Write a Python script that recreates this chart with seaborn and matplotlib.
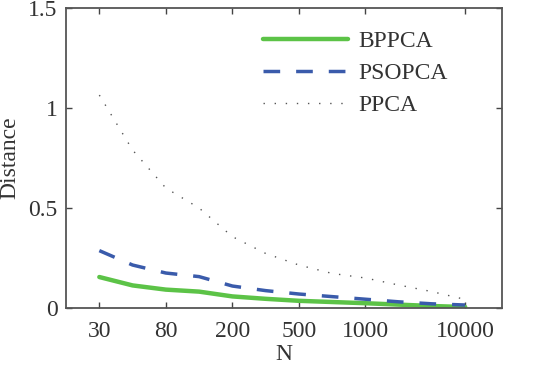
import numpy as np
import pandas as pd
import matplotlib
matplotlib.use("Agg")
import matplotlib.pyplot as plt
import seaborn as sns

# sample sizes, plotted at evenly spaced positions
N_VALUES = [30, 50, 80, 120, 200, 300, 500, 800, 1000, 2000, 5000, 10000]
TICK_N = [30, 80, 200, 500, 1000, 10000]

BPPCA = [0.155, 0.113, 0.092, 0.082, 0.058, 0.046, 0.036, 0.030, 0.024, 0.017, 0.010, 0.005]
PSOPCA = [0.287, 0.215, 0.175, 0.157, 0.110, 0.087, 0.070, 0.057, 0.044, 0.031, 0.021, 0.015]
PPCA = [1.065, 0.790, 0.600, 0.500, 0.357, 0.273, 0.215, 0.173, 0.150, 0.115, 0.082, 0.043]

sns.set_style("ticks")
plt.rcParams["font.family"] = ["Liberation Serif", "DejaVu Serif"]

pos = np.arange(len(N_VALUES))
df = pd.DataFrame({
    "pos": np.tile(pos, 3),
    "Distance": BPPCA + PSOPCA + PPCA,
    "method": ["BPPCA"] * 12 + ["PSOPCA"] * 12 + ["PPCA"] * 12,
})

fig = plt.figure(figsize=(5.46, 3.68), dpi=100)
ax = fig.add_axes([0.121, 0.163, 0.798, 0.815])

styles = {
    "BPPCA": dict(color="#5cc347", lw=3.2, ls="-"),
    "PSOPCA": dict(color="#3a5bab", lw=2.5, ls=(0, (4.8, 4.6))),
    "PPCA": dict(color="#555555", lw=1.0, ls=(0, (1, 7))),
}
for m, st in styles.items():
    sns.lineplot(data=df[df["method"] == m], x="pos", y="Distance", ax=ax,
                 color=st["color"], linewidth=st["lw"], linestyle=st["ls"],
                 label=m, legend=False)

ax.set_xlim(-1, 12.1)
ax.set_ylim(0, 1.5)
tick_pos = [N_VALUES.index(n) for n in TICK_N]
ax.set_xticks(tick_pos)
ax.set_xticklabels([str(n) for n in TICK_N])
ax.set_yticks([0, 0.5, 1, 1.5])
ax.set_yticklabels(["0", "0.5", "1", "1.5"])
ax.tick_params(direction="in", top=True, right=True, labelsize=17, length=4,
               width=1, colors="#444444", labelcolor="#333333")
ax.tick_params(axis="x", pad=9)
ax.tick_params(axis="y", pad=6)
for s in ax.spines.values():
    s.set_color("#555555")
    s.set_linewidth(1.3)

ax.set_xlabel("N", fontsize=17, color="#333333", labelpad=2)
ax.set_ylabel("Distance", fontsize=17, color="#333333", labelpad=6)

leg = ax.legend(loc="upper left", frameon=False, fontsize=17,
                bbox_to_anchor=(0.452, 0.925), borderaxespad=0, borderpad=0,
                handlelength=3.6, handletextpad=0.42, labelspacing=0.45)
for t in leg.get_texts():
    t.set_color("#333333")

fig.savefig("out.png", dpi=100)
